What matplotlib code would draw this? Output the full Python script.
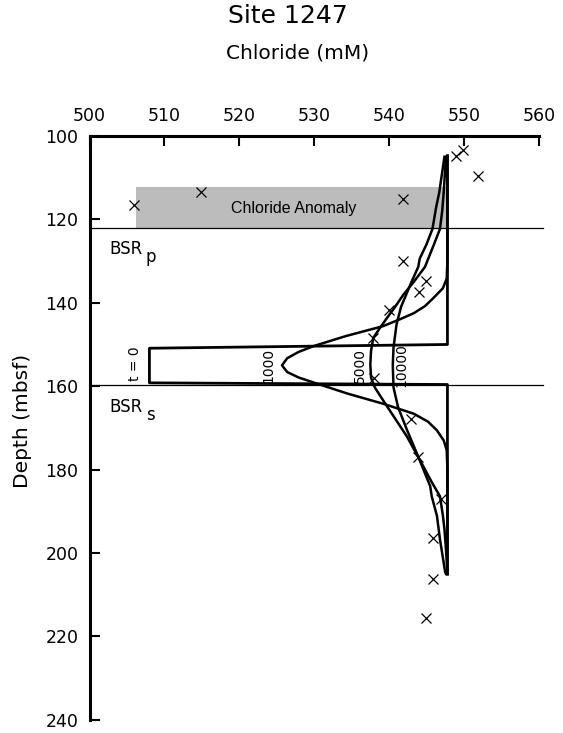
import matplotlib
matplotlib.use('Agg')
import matplotlib.pyplot as plt

# measured chloride (mM) vs depth (mbsf)
cl_obs = [549.9, 548.9, 551.9, 514.9, 505.9, 541.8, 541.8, 545.0, 544.0, 540.0,
          537.9, 538.0, 542.9, 543.9, 547.0, 545.9, 545.9, 544.9]
depth_obs = [103.3, 104.7, 109.7, 113.4, 116.6, 115.0, 130.1, 134.7, 137.3, 141.7,
             148.4, 158.1, 167.8, 177.1, 187.0, 196.5, 206.2, 215.6]

# initial (t = 0) profile
cl_t0 = [547.8, 547.8, 508.0, 508.0, 547.8, 547.8]
depth_t0 = [104.7, 150.0, 150.9, 159.2, 159.6, 205.1]

# model profiles
cl_1000 = [547.8, 547.8, 547.7, 547.2, 545.9, 544.8, 543.3, 541.4, 539.2, 534.2,
           529.9, 527.9, 526.4, 525.7, 526.4, 527.9, 529.9, 534.5, 539.2, 543.3,
           545.2, 546.4, 547.3, 547.7, 547.8, 547.8]
depth_1000 = [105, 130, 134.2, 136.5, 138.9, 140.8, 142.5, 144.0, 145.6, 148.0,
              150.4, 151.8, 153.3, 155.0, 156.6, 157.9, 159.1, 161.8, 164.2, 166.6,
              168.5, 170.6, 173.0, 175.3, 180, 205]

cl_5000 = [547.6, 547.3, 547.1, 546.8, 546.0, 544.8, 543.3, 541.9, 540.8, 539.7,
           538.8, 537.9, 537.6, 537.5, 537.6, 538.1, 539.5, 540.9, 542.4, 543.5,
           544.6, 545.7, 546.8, 547.2, 547.4, 547.6, 547.8]
depth_5000 = [105, 113.6, 118, 122.3, 126, 131.4, 135, 138.1, 141, 143.7,
              146, 148.4, 151.5, 154.8, 158, 160.3, 164.2, 168, 172.1, 175.7,
              179.3, 183, 186.4, 191.1, 194.3, 199, 205]

cl_10000 = [547.4, 546.7, 546.3, 545.8, 545.0, 544.1, 543.9, 543.0, 542.3, 541.6,
            541.0, 540.6, 540.5, 540.6, 541.2, 542.4, 543.9, 545.5, 545.7, 546.4,
            546.8, 547.5, 547.6]
depth_10000 = [105, 113.6, 117, 122.3, 126, 129.4, 131.4, 135, 138, 141,
               145.2, 150.7, 155, 160.3, 165.0, 170.5, 176.9, 184.0, 186.4, 191.1,
               196.7, 204.6, 205]

model_labels = ['1000', '5000', '10000']
label_x = [523.9, 536.1, 541.7]

bsr_depth = [122.1, 159.6]
bsr_sub = ['p', 's']
anomaly_x = [506.2, 547.7]
anomaly_depth = [112.2, 122.1]

plt.rcParams['font.family'] = 'DejaVu Sans'
fig = plt.figure(figsize=(5.63, 7.33), dpi=100)
ax = fig.add_axes([0.159, 0.018, 0.798, 0.7965])

ax.fill_between(anomaly_x, anomaly_depth[0], anomaly_depth[1], color='#bcbcbc', lw=0, zorder=1)
ax.text(527.2, 117.3, 'Chloride Anomaly', family='Liberation Sans', fontsize=11.5,
        ha='center', va='center', zorder=3)

for d in bsr_depth:
    ax.plot([500, 560.6], [d, d], color='black', lw=0.9, clip_on=False, zorder=2)

ax.plot(cl_t0, depth_t0, color='black', lw=2, zorder=4)
ax.plot(cl_1000, depth_1000, color='black', lw=1.8, zorder=4)
ax.plot(cl_5000, depth_5000, color='black', lw=1.8, zorder=4)
ax.plot(cl_10000, depth_10000, color='black', lw=1.8, zorder=4)
ax.plot(cl_obs, depth_obs, 'x', color='black', ms=6.5, mew=0.9, zorder=5)

for lab, lx in zip(model_labels, label_x):
    ax.text(lx, 155.0, lab, rotation=90, fontsize=10, ha='center', va='center', zorder=6)
ax.text(506.1, 154.7, 't = 0', rotation=90, fontsize=10, ha='center', va='center')

ax.text(502.7, bsr_depth[0] + 5.0, 'BSR', fontsize=12, ha='left', va='center')
ax.text(507.5, bsr_depth[0] + 7.0, bsr_sub[0], fontsize=12, ha='left', va='center')
ax.text(502.7, bsr_depth[1] + 5.4, 'BSR', fontsize=12, ha='left', va='center')
ax.text(507.5, bsr_depth[1] + 7.3, bsr_sub[1], fontsize=12, ha='left', va='center')

ax.set_xlim(500, 560)
ax.set_ylim(240, 100)
ax.set_xticks(range(500, 561, 10))
ax.set_yticks(range(100, 241, 20))
ax.xaxis.tick_top()
ax.tick_params(direction='in', length=7, width=1.5, labelsize=12.5, pad=8)
for s in ['right', 'bottom']:
    ax.spines[s].set_visible(False)
for s in ['left', 'top']:
    ax.spines[s].set_linewidth(2.2)

fig.text(0.512, 1 - 16 / 733, 'Site 1247', fontsize=18, ha='center', va='center')
fig.text(298 / 563, 1 - 53 / 733, 'Chloride (mM)', fontsize=14.5, ha='center', va='center')
fig.text(22 / 563, 1 - 421 / 733, 'Depth (mbsf)', fontsize=14.5, rotation=90,
         ha='center', va='center')

fig.savefig('out.png', dpi=100)
